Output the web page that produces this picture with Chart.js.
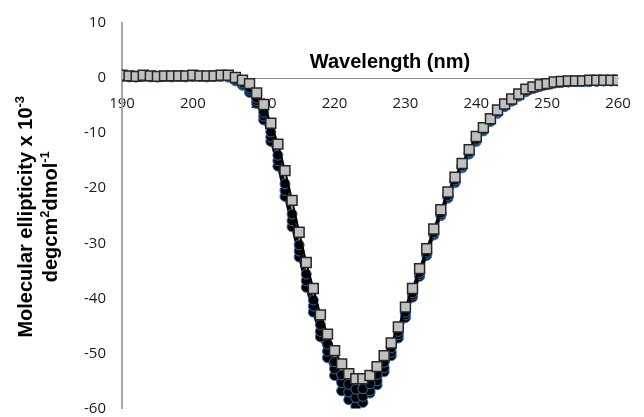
<!DOCTYPE html>
<html>
<head>
<meta charset="utf-8">
<script src="https://cdn.jsdelivr.net/npm/chart.js@4.4.1/dist/chart.umd.min.js"></script>
<style>
  html, body { margin: 0; padding: 0; background: #fff; }
  canvas { display: block; }
</style>
</head>
<body>
<canvas id="cd" width="644" height="417"></canvas>
<script>
// wavelength grid (nm)
const wavelengths = [
  190, 191, 192, 193, 194, 195, 196, 197, 198, 199,
  200, 201, 202, 203, 204, 205, 206, 207, 208, 209,
  210, 211, 212, 213, 214, 215, 216, 217, 218, 219,
  220, 221, 222, 223, 224, 225, 226, 227, 228, 229,
  230, 231, 232, 233, 234, 235, 236, 237, 238, 239,
  240, 241, 242, 243, 244, 245, 246, 247, 248, 249,
  250, 251, 252, 253, 254, 255, 256, 257, 258, 259, 260,
];

// grey squares, drawn on top
const seriesSquares = [
  0.5, 0.4, 0.3, 0.5, 0.4, 0.3, 0.4, 0.4, 0.4, 0.4, 0.5, 0.4, 0.4, 0.4, 0.5,
  0.5, 0.1, -0.4, -1.0, -2.7, -4.8, -8.2, -12.0, -16.8, -22.2,
  -28.0, -33.5, -38.2, -43.0, -46.5, -49.5, -51.9, -53.7, -54.6, -54.6,
  -54.0, -52.4, -50.4, -48.1, -45.2, -41.6, -38.2, -34.6, -31.0, -27.4,
  -23.9, -20.7, -18.0, -15.5, -13.0, -10.6, -9.0, -7.4, -5.8, -4.7,
  -3.8, -2.9, -2.0, -1.6, -1.2, -1.0, -0.7, -0.6, -0.5, -0.5,
  -0.5, -0.4, -0.4, -0.4, -0.4, -0.4,
];

// black circle runs underneath
const seriesA = [
  0.4, 0.3, 0.3, 0.4, 0.3, 0.3, 0.3, 0.3, 0.4, 0.3, 0.4, 0.3, 0.3, 0.4, 0.4,
  0.3, -0.2, -0.8, -1.8, -3.6, -6.2, -9.8, -14.0, -19.2, -24.7,
  -30.3, -35.6, -40.3, -44.8, -48.3, -51.5, -53.9, -55.6, -56.5, -56.4,
  -55.5, -53.8, -51.6, -49.0, -46.0, -42.5, -39.0, -35.3, -31.6, -28.0,
  -24.5, -21.3, -18.5, -15.9, -13.4, -11.1, -9.3, -7.7, -6.1, -4.9,
  -4.0, -3.1, -2.3, -1.8, -1.4, -1.1, -0.8, -0.7, -0.6, -0.6,
  -0.5, -0.5, -0.5, -0.5, -0.5, -0.5,
];

const seriesB = [
  0.3, 0.3, 0.2, 0.3, 0.3, 0.2, 0.3, 0.3, 0.3, 0.3, 0.3, 0.3, 0.3, 0.3, 0.4,
  0.2, -0.4, -1.1, -2.2, -4.1, -6.9, -10.7, -15.0, -20.4, -25.9,
  -31.4, -36.8, -41.4, -46.0, -49.6, -52.8, -55.3, -57.0, -58.0, -57.8,
  -56.8, -55.0, -52.6, -49.8, -46.6, -43.0, -39.4, -35.7, -31.9, -28.3,
  -24.8, -21.6, -18.8, -16.1, -13.6, -11.3, -9.5, -7.8, -6.3, -5.1,
  -4.1, -3.2, -2.4, -1.9, -1.5, -1.1, -0.9, -0.8, -0.7, -0.6,
  -0.6, -0.6, -0.5, -0.5, -0.5, -0.5,
];

const seriesC = [
  0.3, 0.2, 0.2, 0.3, 0.2, 0.2, 0.3, 0.2, 0.3, 0.2, 0.3, 0.3, 0.2, 0.3, 0.3,
  0.2, -0.5, -1.3, -2.6, -4.6, -7.6, -11.5, -16.0, -21.5, -27.0,
  -32.5, -38.0, -42.5, -47.0, -50.8, -54.0, -56.8, -58.4, -59.6, -58.9,
  -57.2, -55.7, -53.3, -50.4, -47.2, -43.5, -39.8, -36.0, -32.2, -28.5,
  -25.0, -21.8, -19.0, -16.3, -13.8, -11.5, -9.6, -7.9, -6.4, -5.2,
  -4.2, -3.3, -2.5, -1.9, -1.5, -1.2, -0.9, -0.8, -0.7, -0.6,
  -0.6, -0.6, -0.6, -0.5, -0.5, -0.5,
];

const xTicks = [190, 200, 210, 220, 230, 240, 250, 260];
const yTicks = [10, 0, -10, -20, -30, -40, -50, -60];

// y title lines as [text, isSuperscript] runs
const yTitleLines = [
  [['Molecular ellipticity x 10', false], ['-3', true]],
  [['degcm', false], ['2', true], ['dmol', false], ['-1', true]],
];
const xTitle = 'Wavelength (nm)';

const TICK_FONT = { family: '"Open Sans", sans-serif', size: 15, lineHeight: 1 };
const TITLE_FAMILY = '"Liberation Sans", Arial, sans-serif';
const TITLE_SIZE = 20;

function darkRun(values) {
  return {
    data: values,
    borderColor: '#000',
    borderWidth: 2,
    pointStyle: 'circle',
    pointRadius: 5,
    pointBackgroundColor: '#000',
    pointBorderColor: '#2f6db5',
    pointBorderWidth: 1,
    tension: 0,
  };
}

// titles: x title sits above the axis line (which crosses at y = 0),
// y title is two rotated lines with superscripts
const titlePlugin = {
  id: 'axisTitles',
  afterDraw(chart) {
    const { ctx, chartArea, scales } = chart;
    const y0 = scales.y.getPixelForValue(0);
    const mainFont = `bold ${TITLE_SIZE}px ${TITLE_FAMILY}`;
    const supFont = `bold ${Math.round(TITLE_SIZE * 0.65)}px ${TITLE_FAMILY}`;

    ctx.save();
    ctx.fillStyle = '#000';
    ctx.font = mainFont;
    ctx.textAlign = 'center';
    ctx.textBaseline = 'middle';
    ctx.fillText(xTitle, (chartArea.left + chartArea.right) / 2 + 20, y0 - 16);

    const cy = (chartArea.top + chartArea.bottom) / 2 + 1;
    ctx.textAlign = 'left';
    yTitleLines.forEach((runs, i) => {
      const widths = runs.map(([t, sup]) => {
        ctx.font = sup ? supFont : mainFont;
        return ctx.measureText(t).width;
      });
      const total = widths.reduce((a, b) => a + b, 0);
      ctx.save();
      ctx.translate(scales.y.left + 26 + i * 25, cy);
      ctx.rotate(-Math.PI / 2);
      let x = -total / 2;
      runs.forEach(([t, sup], j) => {
        ctx.font = sup ? supFont : mainFont;
        ctx.fillText(t, x, sup ? -6 : 0);
        x += widths[j];
      });
      ctx.restore();
    });
    ctx.restore();
  },
};

new Chart(document.getElementById('cd').getContext('2d'), {
  type: 'line',
  data: {
    labels: wavelengths,
    datasets: [
      {
        data: seriesSquares,
        borderColor: '#000',
        borderWidth: 2,
        pointStyle: 'rect',
        pointRadius: 7,
        pointBackgroundColor: '#c0c0c0',
        pointBorderColor: '#262626',
        pointBorderWidth: 1.5,
        tension: 0,
      },
      darkRun(seriesA),
      darkRun(seriesB),
      darkRun(seriesC),
    ],
  },
  options: {
    responsive: false,
    animation: false,
    events: [],
    layout: { padding: { left: 0, top: 23, right: 26, bottom: 8 } },
    plugins: {
      legend: { display: false },
      tooltip: { enabled: false },
    },
    scales: {
      x: {
        type: 'linear',
        position: { y: 0 },
        min: 190,
        max: 260,
        afterBuildTicks: (scale) => { scale.ticks = xTicks.map(v => ({ value: v })); },
        afterFit: (scale) => { scale.height = 0; },
        // same trick as the y axis: hidden tick length instead of padding
        grid: { display: false, drawTicks: true, tickLength: 18 },
        border: { display: true, color: '#8c8c8c', width: 1 },
        ticks: { color: '#1a1a1a', font: TICK_FONT, padding: 0, maxRotation: 0 },
      },
      y: {
        type: 'linear',
        position: 'left',
        min: -60,
        max: 10,
        afterBuildTicks: (scale) => { scale.ticks = yTicks.map(v => ({ value: v })); },
        afterFit: (scale) => { scale.width = 122; },
        // invisible tick marks give the label gap without padding the ends
        grid: { display: false, drawTicks: true, tickLength: 16 },
        border: { display: true, color: '#a6a6a6', width: 2 },
        ticks: { color: '#1a1a1a', font: TICK_FONT, padding: 0 },
      },
    },
  },
  plugins: [titlePlugin],
});
</script>
</body>
</html>
